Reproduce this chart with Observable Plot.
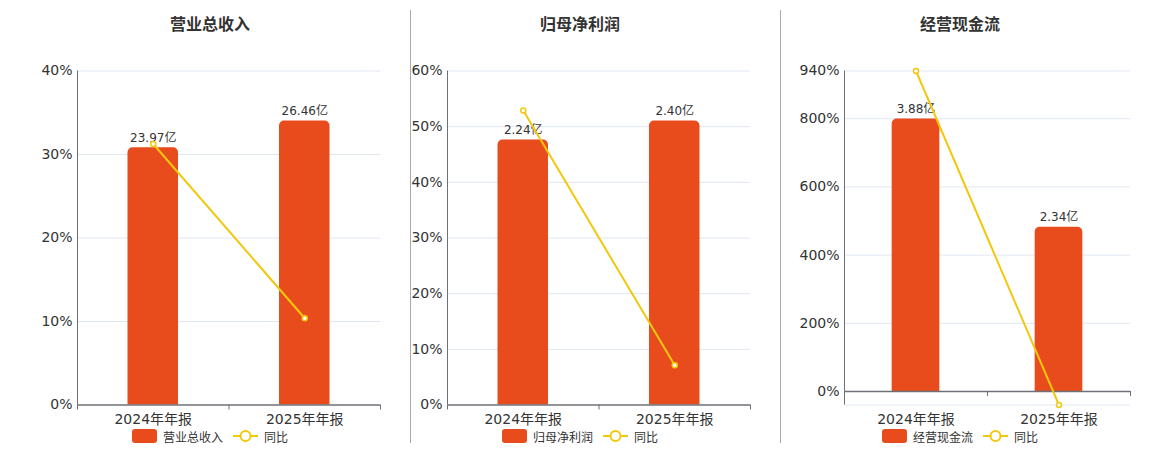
<!DOCTYPE html>
<html><head><meta charset="utf-8">
<script src="https://cdn.jsdelivr.net/npm/d3@7"></script>
<script src="https://cdn.jsdelivr.net/npm/@observablehq/plot@0.6"></script>
<style>
body{margin:0;background:#fff;}
#root{position:relative;width:1160px;height:450px;overflow:hidden;font-family:"DejaVu Sans","Noto Sans CJK SC",sans-serif;}
.title{position:absolute;top:11px;width:400px;text-align:center;font-weight:bold;font-size:16px;font-family:"Noto Sans CJK SC","DejaVu Sans",sans-serif;color:#333;}
.legend{position:absolute;top:428px;width:400px;height:16px;display:flex;justify-content:center;align-items:center;font-size:12px;color:#333;font-family:"Noto Sans CJK SC","DejaVu Sans",sans-serif;}
.legend .sw{display:inline-block;width:25px;height:14px;border-radius:3px;background:#e84c1d;margin-right:6px;}
.legend .ln{margin-left:10px;margin-right:6px;}
.sep{position:absolute;top:10px;height:433px;width:1px;background:#a9a9a9;}
.panel{position:absolute;top:0;}
</style></head>
<body><div id="root"></div>
<script>
// ---- data ----
const categories = ["2024年年报", "2025年年报"];
const titles = ["营业总收入", "归母净利润", "经营现金流"];
const unit = "亿";
const seriesName = "同比";
const revenueValues = [23.97, 26.46];
const revenueYoY = [31.26, 10.39];
const profitValues = [2.24, 2.40];
const profitYoY = [52.9, 7.14];
const cashValues = [3.88, 2.34];
const cashYoY = [940, -39.69];
const revenueTicks = [0, 10, 20, 30, 40];
const profitTicks = [0, 10, 20, 30, 40, 50, 60];
const cashTicks = [0, 200, 400, 600, 800, 940];

// ---- style / layout ----
const RED = "#e84c1d", YELLOW = "#f2c80f", AXIS = "#6E7079", GRID = "#E0E6F1";
const panels = [
  {title: titles[0], values: revenueValues, yoy: revenueYoY, ticks: revenueTicks, yMin: 0, left: 0, width: 400, ml: 77, mr: 20, center: 210},
  {title: titles[1], values: profitValues, yoy: profitYoY, ticks: profitTicks, yMin: 0, left: 400, width: 370, ml: 47, mr: 20, center: 580},
  {title: titles[2], values: cashValues, yoy: cashYoY, ticks: cashTicks, yMin: d3.min(cashYoY), left: 780, width: 380, ml: 64, mr: 30, center: 960}
];
const root = document.getElementById("root");
const H = 450, TOP = 70.5, BOTTOM = 404.5;

const ver = String(Plot.version || "0.6.0").split(".").map(Number);
const cornerSupport = ver[0] > 0 || ver[1] > 6 || (ver[1] === 6 && ver[2] >= 15);

function barMarks(bars) {
  const base = {x1: d => d.i + 1/3, x2: d => d.i + 2/3, y1: 0, y2: d => d.h, fill: RED};
  if (cornerSupport) return [Plot.rect(bars, {...base, ry2: 5})];
  return [
    Plot.rect(bars, {...base, rx: 5}),
    Plot.rect(bars, {...base, y2: d => d.h * 0.5, shapeRendering: "crispEdges"})
  ];
}

function makePanel(cfg) {
  const {values, yoy, ticks, yMin, width, ml, mr} = cfg;
  const yMax = d3.max(ticks);
  // hidden secondary axis for bars: [0, max/0.85] mapped onto [0, yMax]
  const k = yMax / (d3.max(values) / 0.85);
  const bars = values.map((v, i) => ({i, h: v * k, label: v.toFixed(2) + unit}));
  const pts = yoy.map((v, i) => ({i, v}));
  const grid = Array.from(new Set([...ticks, yMin])).filter(t => t !== 0);
  return Plot.plot({
    width, height: H,
    marginLeft: ml, marginRight: mr, marginTop: TOP, marginBottom: H - BOTTOM,
    x: {type: "linear", domain: [0, categories.length], axis: null},
    y: {domain: [yMin, yMax], axis: null},
    style: {fontFamily: '"DejaVu Sans","Noto Sans CJK SC",sans-serif', fontSize: "14px", color: "#333", background: "transparent", overflow: "visible"},
    marks: [
      Plot.ruleY(grid, {stroke: GRID, strokeWidth: 1}),
      ...barMarks(bars),
      Plot.ruleY([0], {stroke: AXIS, strokeWidth: 1.5}),
      Plot.ruleX([0], {stroke: AXIS, strokeWidth: 1}),
      Plot.ruleX(d3.range(categories.length + 1), {x: d => d, y1: 0, y2: 0, insetBottom: -5, stroke: AXIS}),
      Plot.axisY({ticks, tickSize: 0, tickPadding: 5, tickFormat: d => d + "%", label: null, fontSize: 14}),
      Plot.axisX({ticks: categories.map((c, i) => i + 0.5), tickSize: 0, tickPadding: 9, tickFormat: d => categories[Math.round(d - 0.5)], label: null, fontSize: 14}),
      Plot.text(bars, {x: d => d.i + 0.5, y: d => d.h, text: "label", dy: -10, fontSize: 12, fill: "#333"}),
      Plot.line(pts, {x: d => d.i + 0.5, y: "v", stroke: YELLOW, strokeWidth: 2}),
      Plot.dot(pts, {x: d => d.i + 0.5, y: "v", r: 2.5, stroke: YELLOW, fill: "#fff", strokeWidth: 1.5})
    ]
  });
}

panels.forEach((p, idx) => {
  const div = document.createElement("div");
  div.className = "panel";
  div.style.left = p.left + "px";
  div.appendChild(makePanel(p));
  root.appendChild(div);

  const t = document.createElement("div");
  t.className = "title";
  t.style.left = (p.center - 200) + "px";
  t.textContent = p.title;
  root.appendChild(t);

  const lg = document.createElement("div");
  lg.className = "legend";
  lg.style.left = (p.center - 200) + "px";
  lg.innerHTML = `<span class="sw"></span><span>${p.title}</span>` +
    `<svg class="ln" width="25" height="14"><line x1="0" y1="7" x2="25" y2="7" stroke="${YELLOW}" stroke-width="2"/>` +
    `<circle cx="12.5" cy="7" r="5" fill="#fff" stroke="${YELLOW}" stroke-width="2"/></svg><span>${seriesName}</span>`;
  root.appendChild(lg);
});
[410, 780].forEach(x => {
  const s = document.createElement("div");
  s.className = "sep";
  s.style.left = x + "px";
  root.appendChild(s);
});
</script></body></html>
